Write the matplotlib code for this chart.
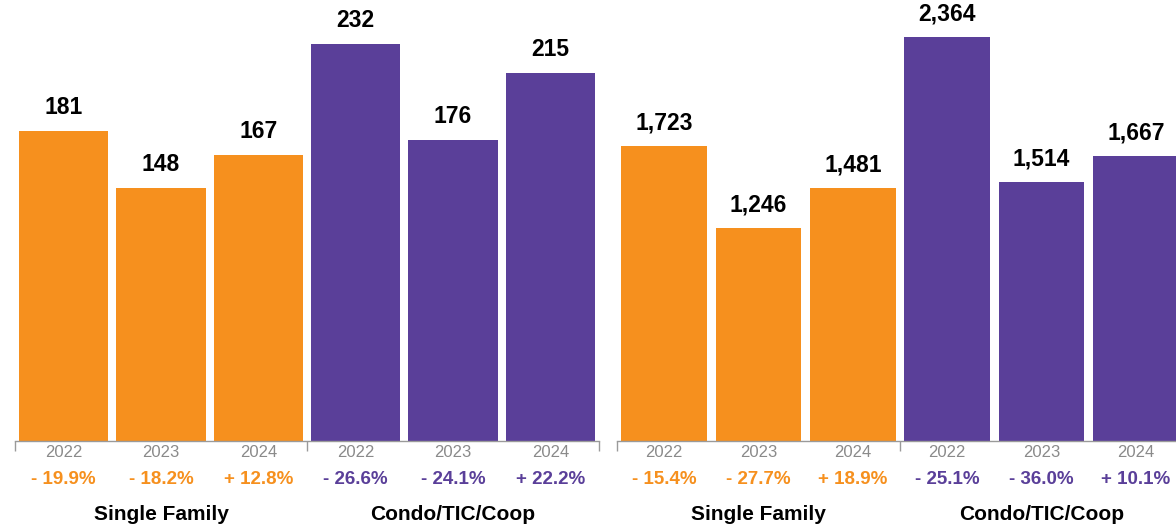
import matplotlib
matplotlib.use("Agg")
import matplotlib.pyplot as plt
import matplotlib.transforms as mtransforms

plt.rcParams['font.family'] = ['Liberation Sans', 'DejaVu Sans']

years = ["2022", "2023", "2024", "2022", "2023", "2024"]
categories = ["Single Family", "Condo/TIC/Coop"]

left_values = [181, 148, 167, 232, 176, 215]
left_changes = ["- 19.9%", "- 18.2%", "+ 12.8%", "- 26.6%", "- 24.1%", "+ 22.2%"]
right_values = [1723, 1246, 1481, 2364, 1514, 1667]
right_changes = ["- 15.4%", "- 27.7%", "+ 18.9%", "- 25.1%", "- 36.0%", "+ 10.1%"]

ORANGE = "#F6901E"
PURPLE = "#5A3F99"
colors = [ORANGE] * 3 + [PURPLE] * 3

W, H = 1176, 528
fig = plt.figure(figsize=(W / 100, H / 100), dpi=100)

base_y = 441


def make_panel(x0, x1, values, changes, ymax, width):
    ax = fig.add_axes([x0 / W, (H - base_y) / H, (x1 - x0) / W, base_y / H])
    xs = list(range(len(values)))
    ax.bar(xs, values, width=width, color=colors, zorder=2)
    ax.set_xlim(-0.5, 5.5)
    ax.set_ylim(0, ymax)
    for s in ["top", "left", "right"]:
        ax.spines[s].set_visible(False)
    ax.spines["bottom"].set_color("#9a9a9a")
    ax.spines["bottom"].set_linewidth(1.0)
    ax.set_yticks([])
    ax.set_xticks([-0.5, 2.5, 5.5])
    ax.set_xticklabels([])
    ax.tick_params(axis="x", length=7, width=1.0, color="#9a9a9a", direction="out")
    for x, v in zip(xs, values):
        ax.annotate(f"{v:,}", (x, v), xytext=(0, 12), textcoords="offset points",
                    ha="center", va="baseline", fontsize=16.5, fontweight="bold", color="black")
    trans = mtransforms.blended_transform_factory(ax.transData, fig.transFigure)
    for x, yr, ch, c in zip(xs, years, changes, colors):
        ax.text(x, (H - 452.5) / H, yr, transform=trans, ha="center", va="center",
                fontsize=12, color="#8a8a8a", clip_on=False)
        ax.text(x, (H - 479) / H, ch, transform=trans, ha="center", va="center",
                fontsize=13.5, fontweight="bold", color=c, clip_on=False)
    for gx, cat in zip([1, 4], categories):
        ax.text(gx, (H - 514) / H, cat, transform=trans, ha="center", va="center",
                fontsize=15, fontweight="bold", color="black", clip_on=False)
    return ax


make_panel(15, 599, left_values, left_changes, 257.5, 0.915)
make_panel(617, 1183, right_values, right_changes, 2580, 0.91)

fig.savefig("out.png", dpi=100, facecolor="white")
